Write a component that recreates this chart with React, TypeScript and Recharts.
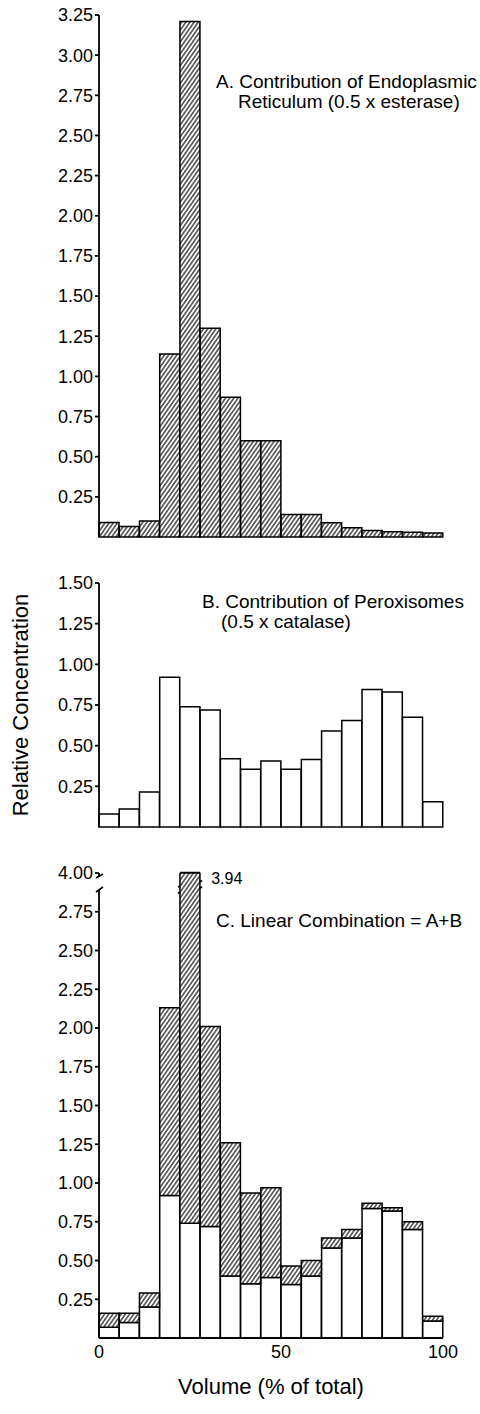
import { BarChart, Bar, XAxis, YAxis, ReferenceArea } from "recharts";

const FONT = '"Liberation Sans", Arial, Helvetica, sans-serif';

// 17 equal volume bins (0-100 %)
const bins = ["1", "2", "3", "4", "5", "6", "7", "8", "9", "10", "11", "12", "13", "14", "15", "16", "17"];

// A. endoplasmic reticulum (0.5 x esterase)
const erValues = [0.09, 0.065, 0.1, 1.14, 3.21, 1.3, 0.87, 0.6, 0.6, 0.14, 0.14, 0.088, 0.058, 0.04, 0.033, 0.03, 0.025];
// B. peroxisomes (0.5 x catalase)
const peroxValues = [0.08, 0.11, 0.215, 0.92, 0.74, 0.72, 0.42, 0.355, 0.405, 0.355, 0.415, 0.59, 0.655, 0.845, 0.83, 0.675, 0.155];
// C. linear combination, as drawn: white part (peroxisomes) + hatched part (ER)
const combPerox = [0.07, 0.1, 0.2, 0.92, 0.74, 0.72, 0.4, 0.35, 0.39, 0.345, 0.4, 0.58, 0.645, 0.835, 0.82, 0.7, 0.11];
const combEr = [0.09, 0.06, 0.09, 1.21, 3.2, 1.29, 0.86, 0.585, 0.58, 0.12, 0.1, 0.065, 0.055, 0.035, 0.02, 0.05, 0.03];

const ticksA = [0.25, 0.5, 0.75, 1, 1.25, 1.5, 1.75, 2, 2.25, 2.5, 2.75, 3, 3.25];
const ticksB = [0.25, 0.5, 0.75, 1, 1.25, 1.5];
const ticksC = [0.25, 0.5, 0.75, 1, 1.25, 1.5, 1.75, 2, 2.25, 2.5, 2.75, 3];
const ticksCLabels = ["0.25", "0.50", "0.75", "1.00", "1.25", "1.50", "1.75", "2.00", "2.25", "2.50", "2.75", "4.00"];

// volume labels sit on bin edges
const volumeTicks = [
  { bin: 0, edge: -1, label: "0" },
  { bin: 8, edge: 1, label: "50" },
  { bin: 16, edge: 1, label: "100" },
];

const breakBin = "5";
const breakLow = 2.89;
const breakHigh = 2.93;
const axisTop = 3;

const dataA = bins.map((bin, i) => ({ bin, er: erValues[i] }));
const dataB = bins.map((bin, i) => ({ bin, perox: peroxValues[i] }));
const dataC = bins.map((bin, i) => ({ bin, perox: combPerox[i], er: combEr[i] }));

const breakIdx = bins.indexOf(breakBin);
const breakTotal = (combPerox[breakIdx] + combEr[breakIdx]).toFixed(2);

const yAxisProps = {
  type: "number" as const,
  width: 99,
  stroke: "#000",
  strokeWidth: 1.8,
  tickSize: 4,
  interval: 0 as const,
  tick: { fill: "#000", fontSize: 18, fontFamily: FONT },
  tickFormatter: (v: number) => v.toFixed(2),
};

const barProps = {
  stroke: "#000",
  strokeWidth: 1.5,
  isAnimationActive: false,
};

function VolumeTick(props: any) {
  const { x, y, payload } = props;
  const t = volumeTicks.find((v) => v.bin === payload.index);
  if (!t) return null;
  const half = payload.offset ?? 10;
  return (
    <text x={x + t.edge * half} y={y} dy="0.71em" textAnchor="middle" fontSize={18} fontFamily={FONT} fill="#000">
      {t.label}
    </text>
  );
}

function CTick(props: any) {
  const { x, y, payload } = props;
  const i = ticksC.indexOf(payload.value);
  const isTop = i === ticksC.length - 1;
  const ax = x + 6;
  return (
    <g>
      <text x={x} y={y} dy="0.355em" textAnchor="end" fontSize={18} fontFamily={FONT} fill="#000">
        {ticksCLabels[i]}
      </text>
      {isTop && (
        <g stroke="#000" strokeWidth={1.6}>
          <rect x={ax - 4} y={y + 4} width={8} height={12} fill="#fff" stroke="none" />
          <line x1={ax - 3} y1={y + 5} x2={ax + 4} y2={y + 1} />
          <line x1={ax - 3} y1={y + 19} x2={ax + 4} y2={y + 14} />
        </g>
      )}
    </g>
  );
}

function BreakShape(props: any) {
  const { x, y, width, height } = props;
  const s = 3;
  return (
    <g>
      <polygon
        points={`${x - 2},${y + height + s} ${x + width + 2},${y + height - s} ${x + width + 2},${y - s} ${x - 2},${y + s}`}
        fill="#fff"
      />
      <line x1={x - 2} y1={y + height + s} x2={x + width + 2} y2={y + height - s} stroke="#000" strokeWidth={1.8} />
      <line x1={x - 2} y1={y + s} x2={x + width + 2} y2={y - s} stroke="#000" strokeWidth={1.8} />
    </g>
  );
}

function TopCapShape(props: any) {
  const { x, y, width } = props;
  return <line x1={x} y1={y} x2={x + width} y2={y} stroke="#000" strokeWidth={2.5} />;
}

const noteStyle: React.CSSProperties = {
  position: "absolute",
  fontFamily: FONT,
  fontSize: 19,
  lineHeight: "20px",
  color: "#000",
  whiteSpace: "nowrap",
};

export default function App() {
  return (
    <div style={{ position: "relative", width: 480, height: 1414, background: "#fff", overflow: "hidden" }}>
      <style>{"body{margin:0}"}</style>
      <svg width={0} height={0} style={{ position: "absolute" }}>
        <defs>
          <pattern id="hatch" patternUnits="userSpaceOnUse" width={3.4} height={3.4} patternTransform="rotate(35)">
            <rect width={3.4} height={3.4} fill="#fff" />
            <line x1={1.7} y1={0} x2={1.7} y2={3.4} stroke="#000" strokeWidth={1.1} />
          </pattern>
        </defs>
      </svg>

      {/* A */}
      <div style={{ position: "absolute", left: 0, top: 0 }}>
        <BarChart width={480} height={560} data={dataA} barCategoryGap={0} barGap={0} margin={{ top: 15, right: 37, bottom: 23, left: 0 }}>
          <XAxis dataKey="bin" hide />
          <YAxis {...yAxisProps} domain={[0, 3.25]} ticks={ticksA} />
          <Bar dataKey="er" fill="url(#hatch)" {...barProps} />
        </BarChart>
      </div>
      <div style={{ ...noteStyle, left: 216, top: 72 }}>
        A. Contribution of Endoplasmic
        <div style={{ paddingLeft: 22 }}>Reticulum (0.5 x esterase)</div>
      </div>

      {/* B */}
      <div style={{ position: "absolute", left: 0, top: 560 }}>
        <BarChart width={480} height={290} data={dataB} barCategoryGap={0} barGap={0} margin={{ top: 23, right: 37, bottom: 23, left: 0 }}>
          <XAxis dataKey="bin" hide />
          <YAxis
            {...yAxisProps}
            domain={[0, 1.5]}
            ticks={ticksB}
            label={{
              value: "Relative Concentration",
              angle: -90,
              position: "insideLeft",
              offset: 20,
              style: { textAnchor: "middle", fontSize: 22, fontFamily: FONT, fill: "#000" },
            }}
          />
          <Bar dataKey="perox" fill="#fff" {...barProps} />
        </BarChart>
      </div>
      <div style={{ ...noteStyle, left: 202, top: 592 }}>
        B. Contribution of Peroxisomes
        <div style={{ paddingLeft: 19 }}>(0.5 x catalase)</div>
      </div>

      {/* C */}
      <div style={{ position: "absolute", left: 0, top: 850 }}>
        <BarChart width={480} height={564} data={dataC} barCategoryGap={0} barGap={0} margin={{ top: 23, right: 37, bottom: 20, left: 0 }}>
          <XAxis
            dataKey="bin"
            height={56}
            interval={0}
            stroke="#000"
            strokeWidth={1.8}
            tickLine={false}
            tickSize={5}
            tick={<VolumeTick />}
            label={{
              value: "Volume (% of total)",
              position: "insideBottom",
              offset: 0,
              style: { fontSize: 22, fontFamily: FONT, fill: "#000" },
            }}
          />
          <YAxis {...yAxisProps} domain={[0, axisTop]} ticks={ticksC} allowDataOverflow tick={<CTick />} />
          <Bar dataKey="perox" stackId="c" fill="#fff" {...barProps} />
          <Bar dataKey="er" stackId="c" fill="url(#hatch)" {...barProps} />
          <ReferenceArea x1={breakBin} x2={breakBin} y1={breakLow} y2={breakHigh} shape={<BreakShape />} />
          <ReferenceArea
            x1={breakBin}
            x2={breakBin}
            y1={breakHigh}
            y2={axisTop}
            shape={<TopCapShape />}
            label={{ value: breakTotal, position: "right", offset: 11, fontSize: 16, fontFamily: FONT, fill: "#000" }}
          />
        </BarChart>
      </div>
      <div style={{ ...noteStyle, left: 216, top: 911 }}>C. Linear Combination = A+B</div>
    </div>
  );
}
